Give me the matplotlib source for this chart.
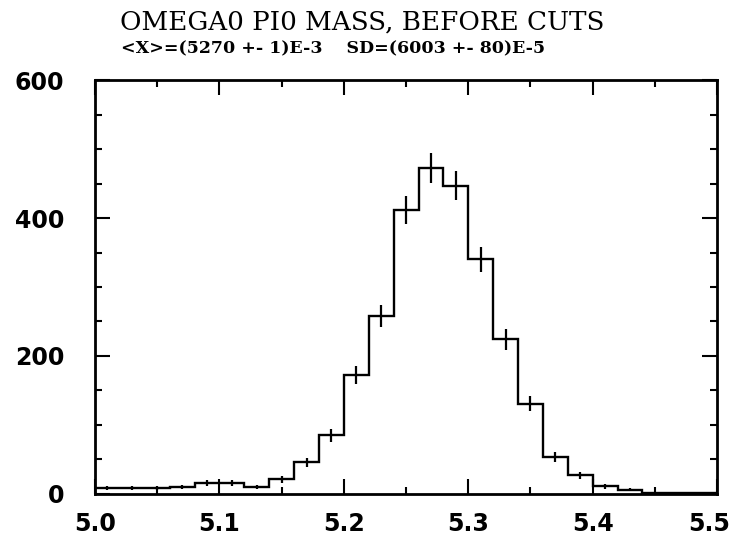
import numpy as np
import matplotlib.pyplot as plt
from matplotlib.ticker import MultipleLocator
from matplotlib.transforms import ScaledTranslation

# Histogramme de la masse omega0 pi0 (avant coupures), 25 canaux de 5.0 à 5.5
edges = np.linspace(5.0, 5.5, 26)
counts = np.array([8, 8, 8, 10, 16, 16, 10, 21, 46, 85,
                   173, 258, 411, 472, 447, 340, 224, 131, 54, 27,
                   11, 6, 2, 1, 1])

title = "OMEGA0 PI0 MASS, BEFORE CUTS"
stats = "<X>=(5270 +- 1)E-3    SD=(6003 +- 80)E-5"

centers = 0.5 * (edges[:-1] + edges[1:])
errors = np.sqrt(counts)

fig = plt.figure(figsize=(7.31, 5.41), dpi=100)
ax = fig.add_axes([0.130, 0.087, 0.851, 0.765])

ax.stairs(counts, edges, color='black', linewidth=1.7)
ax.errorbar(centers, counts, yerr=errors, fmt='none', ecolor='black',
            elinewidth=1.6, capsize=0)

ax.set_xlim(5.0, 5.5)
ax.set_ylim(0, 600)

ax.xaxis.set_major_locator(MultipleLocator(0.1))
ax.xaxis.set_minor_locator(MultipleLocator(0.05))
ax.yaxis.set_major_locator(MultipleLocator(200))
ax.yaxis.set_minor_locator(MultipleLocator(50))

ax.tick_params(which='both', direction='in', top=True, right=True,
               width=1.5, color='black')
ax.tick_params(which='major', length=11)
ax.tick_params(which='minor', length=5)
ax.tick_params(axis='x', which='major', pad=13)
ax.tick_params(axis='y', which='major', pad=22)

for spine in ax.spines.values():
    spine.set_linewidth(2.0)

ax.set_xticks([5.0, 5.1, 5.2, 5.3, 5.4, 5.5])
ax.set_xticklabels(['5.0', '5.1', '5.2', '5.3', '5.4', '5.5'])
ax.set_yticks([0, 200, 400, 600])
ax.set_yticklabels(['0', '200', '400', '600'])
for lab in ax.get_xticklabels() + ax.get_yticklabels():
    lab.set_fontfamily('DejaVu Sans')
    lab.set_fontweight('bold')
    lab.set_fontsize(17)

# le dernier label est décalé pour rester dans la figure
last = ax.get_xticklabels()[-1]
last.set_transform(last.get_transform()
                   + ScaledTranslation(-8 / 100, 0, fig.dpi_scale_trans))

fig.text(0.495, 0.960, title, ha='center', va='center',
         family='DejaVu Serif', fontsize=18.8, color='black')
fig.text(0.166, 0.909, stats, ha='left', va='center',
         family='DejaVu Serif', fontweight='bold', fontsize=12.5,
         color='black')

fig.savefig('out.png', dpi=100)
